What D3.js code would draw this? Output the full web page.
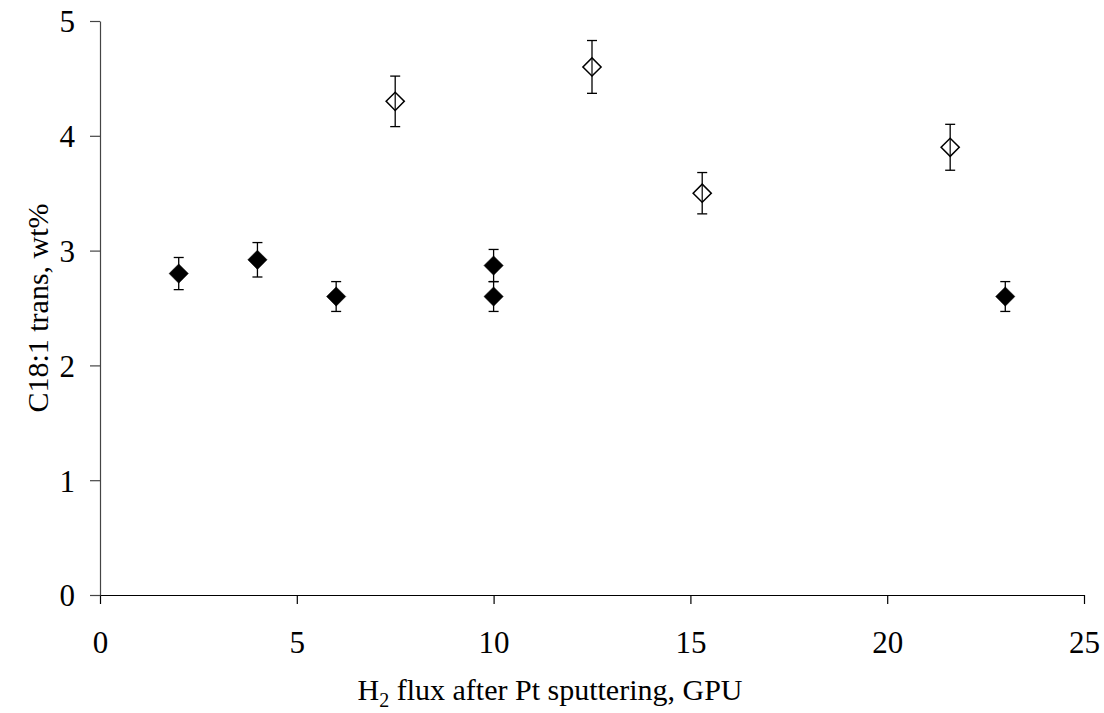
<!DOCTYPE html>
<html><head><meta charset="utf-8">
<script src="https://cdn.jsdelivr.net/npm/d3@7"></script>
<style>body{margin:0;background:#fff}svg{display:block}</style>
</head><body>
<svg id="c" width="1104" height="713"></svg>
<script>
const filledX = [2, 4, 6, 10, 10, 23];
const filledY = [2.8, 2.92, 2.6, 2.87, 2.6, 2.6];
const filledErr = [0.14, 0.15, 0.13, 0.14, 0.13, 0.13];
const openX = [7.5, 12.5, 15.3, 21.6];
const openY = [4.3, 4.6, 3.5, 3.9];
const openErr = [0.22, 0.23, 0.18, 0.2];
const xTicks = [0, 5, 10, 15, 20, 25];
const yTicks = [0, 1, 2, 3, 4, 5];
const xTitle = "flux after Pt sputtering, GPU";
const yTitle = "C18:1 trans, wt%";

const svg = d3.select("#c");
const x = d3.scaleLinear().domain([0, 25]).range([100, 1084]);
const y = d3.scaleLinear().domain([0, 5]).range([595, 21]);
const font = "'Liberation Serif','Times New Roman',serif";

const xAxis = svg.append("g").attr("transform", "translate(0,595)")
  .call(d3.axisBottom(x).tickValues(xTicks).tickFormat(d3.format("d")).tickSize(9).tickSizeOuter(0).tickPadding(27));
const yAxis = svg.append("g").attr("transform", "translate(100,0)")
  .call(d3.axisLeft(y).tickValues(yTicks).tickFormat(d3.format("d")).tickSize(10).tickSizeOuter(0).tickPadding(15));
[xAxis, yAxis].forEach(g => {
  g.selectAll("text").attr("font-family", font).attr("font-size", 31).attr("fill", "#000");
});
xAxis.selectAll("path,line").attr("stroke", "#000").attr("stroke-width", 1.2);
yAxis.selectAll("path,line").attr("stroke", "#444").attr("stroke-width", 1.2);
xAxis.selectAll("text").attr("dy", "0.71em");
yAxis.selectAll("text").attr("dy", "0.35em");

function drawSeries(xs, ys, es, filled) {
  const g = svg.append("g");
  xs.forEach((xv, i) => {
    const cx = x(xv), yt = y(ys[i] + es[i]), yb = y(ys[i] - es[i]);
    g.append("line").attr("x1", cx).attr("x2", cx).attr("y1", yt).attr("y2", yb)
      .attr("stroke", "#000").attr("stroke-width", 1.3);
    [yt, yb].forEach(yy => g.append("line").attr("x1", cx - 5).attr("x2", cx + 5)
      .attr("y1", yy).attr("y2", yy).attr("stroke", "#000").attr("stroke-width", 1.3));
  });
  const sym = d3.symbol().type(d3.symbolSquare).size(filled ? 185 : 165);
  xs.forEach((xv, i) => {
    g.append("path").attr("d", sym())
      .attr("transform", `translate(${x(xv)},${y(ys[i])}) rotate(45)`)
      .attr("fill", filled ? "#000" : "#fff")
      .attr("stroke", "#000").attr("stroke-width", filled ? 0.5 : 1.5);
    if (!filled) {
      g.append("line").attr("x1", x(xv)).attr("x2", x(xv))
        .attr("y1", y(ys[i]) - 9).attr("y2", y(ys[i]) + 9)
        .attr("stroke", "#000").attr("stroke-width", 1.2);
    }
  });
}
drawSeries(filledX, filledY, filledErr, true);
drawSeries(openX, openY, openErr, false);

const xt = svg.append("text").attr("x", 550).attr("y", 700).attr("text-anchor", "middle")
  .attr("font-family", font).attr("font-size", 30);
xt.append("tspan").text("H");
xt.append("tspan").attr("font-size", 20).attr("dy", 7).text("2");
xt.append("tspan").attr("dy", -7).text(" " + xTitle);

svg.append("text").attr("transform", "translate(48,308) rotate(-90)").attr("text-anchor", "middle")
  .attr("font-family", font).attr("font-size", 30).text(yTitle);
</script>
</body></html>
